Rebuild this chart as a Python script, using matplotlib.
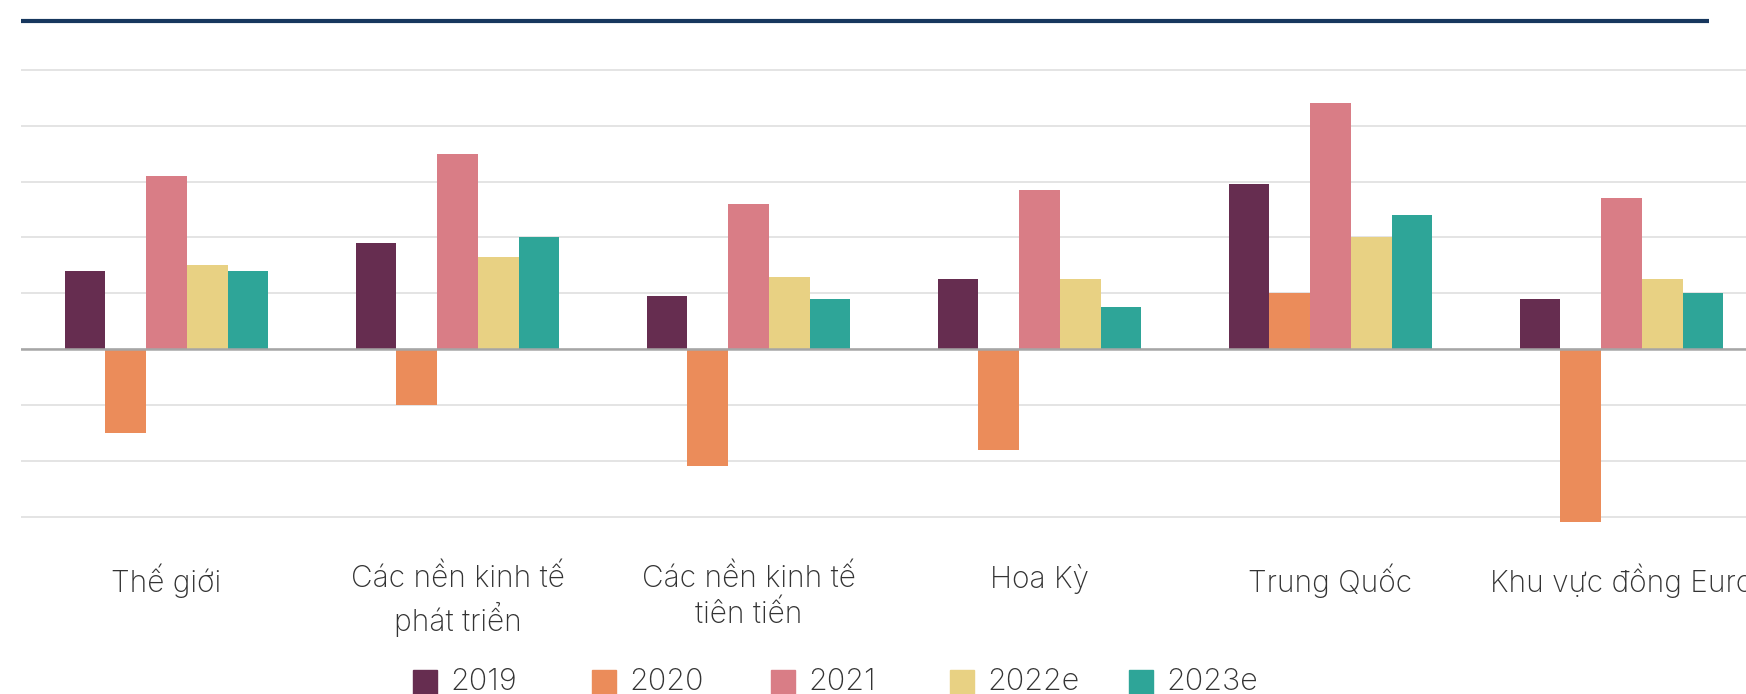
import matplotlib.pyplot as plt
from matplotlib.lines import Line2D
from matplotlib.patches import Rectangle
import numpy as np

plt.rcParams['font.family'] = ['Inter', 'DejaVu Sans']

categories = ["Thế giới", "Các nền kinh tế\nphát triển", "Các nền kinh tế\ntiên tiến",
              "Hoa Kỳ", "Trung Quốc", "Khu vực đồng Euro"]
years = ["2019", "2020", "2021", "2022e", "2023e"]
v2019 = [2.8, 3.8, 1.9, 2.5, 5.9, 1.8]
v2020 = [-3.0, -2.0, -4.2, -3.6, 2.0, -6.2]
v2021 = [6.2, 7.0, 5.2, 5.7, 8.8, 5.4]
v2022 = [3.0, 3.3, 2.6, 2.5, 4.0, 2.5]
v2023 = [2.8, 4.0, 1.8, 1.5, 4.8, 2.0]
series = [v2019, v2020, v2021, v2022, v2023]
colors = ["#662d50", "#eb8c5a", "#d97d86", "#e8d183", "#2ea598"]
text_c = "#333333"

fig = plt.figure(figsize=(17.46, 6.94), dpi=100)
ax = fig.add_axes([0.012, 0.2314, 1.0, 0.6839])

x = np.arange(len(categories))
w = 0.14
for i, (vals, c) in enumerate(zip(series, colors)):
    ax.bar(x + (i - 2) * w, vals, width=w, color=c, linewidth=0, zorder=3)

ax.set_xlim(-0.5, 5.5)
ax.set_ylim(-6.6, 10.4)
ax.set_yticks(np.arange(-6, 11, 2))
ax.yaxis.grid(True, color="#e2e2e2", linewidth=1.3, zorder=0)
ax.axhline(0, color="#a6a6a6", linewidth=1.8, zorder=4)
ax.tick_params(axis="y", length=0, labelleft=False)
ax.set_xticks(x)
ax.set_xticklabels(categories, fontsize=21.5, color=text_c, fontweight="light",
                   linespacing=1.3)
ax.tick_params(axis="x", length=0, pad=22)
for s in ax.spines.values():
    s.set_visible(False)

# navy rule at top
fig.add_artist(Line2D([0.012, 0.979], [1 - 21 / 694] * 2, color="#17375e",
                      linewidth=3, solid_capstyle="butt"))

# legend with evenly spaced entries
x0, step, yc = 413 / 1746, 179 / 1746, 1 - 682 / 694
sq_w, sq_h = 24 / 1746, 24 / 694
for i, (lab, c) in enumerate(zip(years, colors)):
    xi = x0 + i * step
    fig.add_artist(Rectangle((xi, yc - sq_h / 2), sq_w, sq_h, color=c,
                             transform=fig.transFigure))
    fig.text(xi + sq_w + 13 / 1746, yc, lab, fontsize=22, color=text_c,
             fontweight="light", va="center", ha="left")

fig.savefig("out.png", dpi=100)
